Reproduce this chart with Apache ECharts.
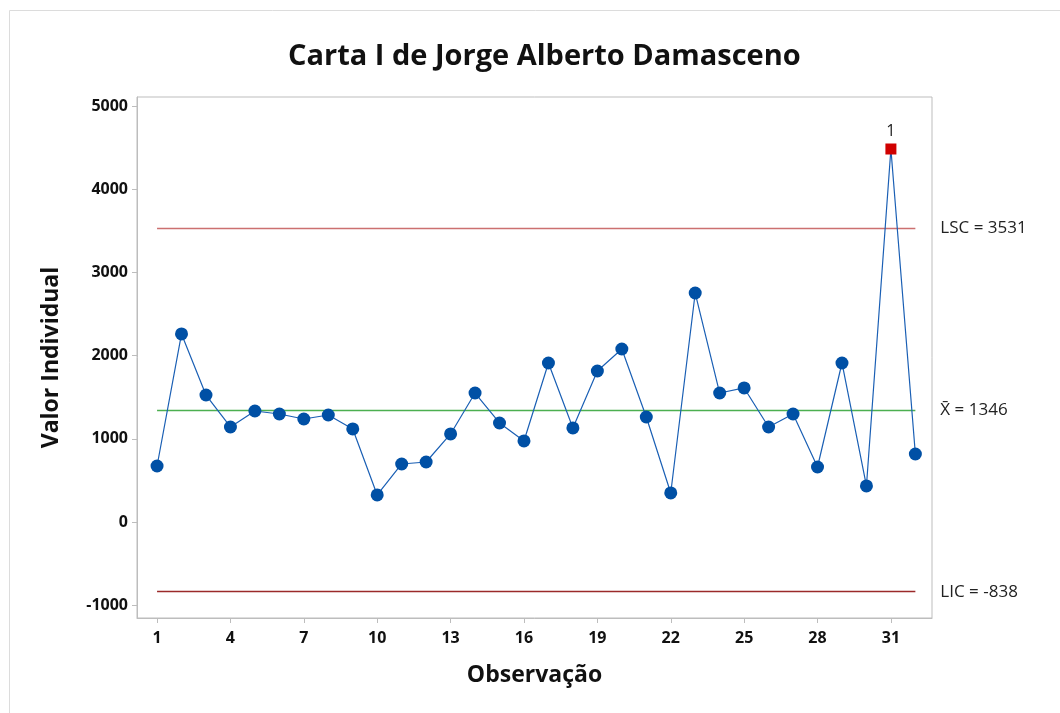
<!DOCTYPE html>
<html>
<head>
<meta charset="utf-8">
<title>Carta I</title>
<script src="https://cdn.jsdelivr.net/npm/echarts@6/dist/echarts.min.js"></script>
<style>
  html, body { margin: 0; padding: 0; background: #fff; }
  #chart { width: 1060px; height: 713px; }
</style>
</head>
<body>
<div id="chart"></div>
<script>
// observações e valores individuais
const observacoes = [1, 2, 3, 4, 5, 6, 7, 8, 9, 10, 11, 12, 13, 14, 15, 16,
  17, 18, 19, 20, 21, 22, 23, 24, 25, 26, 27, 28, 29, 30, 31, 32]
const valores = [673, 2260, 1526, 1142, 1334, 1298, 1238, 1286, 1118, 325, 697, 721, 1058, 1550, 1190, 974,
  1911, 1130, 1815, 2079, 1262, 349, 2752, 1550, 1611, 1142, 1298, 661, 1911, 433, 4483, 817]
// pontos fora de controle (teste 1)
const foraControle = [31]
// limites
const LSC = 3531
const media = 1346
const LIC = -838
const yTicks = [-1000, 0, 1000, 2000, 3000, 4000, 5000]
const xTicks = [1, 4, 7, 10, 13, 16, 19, 22, 25, 28, 31]

const font = '"Open Sans", "Noto Sans", sans-serif'
const chart = echarts.init(document.getElementById('chart'))

const seriesData = observacoes.map((obs, i) => {
  const item = { value: [obs, valores[i]] }
  if (foraControle.includes(obs)) {
    item.symbol = 'rect'
    item.symbolSize = 11
    item.itemStyle = { color: '#d00000' }
    item.label = { show: true, formatter: '1', position: 'top', distance: 4,
      fontFamily: font, fontSize: 16, color: '#222' }
  }
  return item
})

const limite = (valor, cor, texto) => [
  { coord: [1, valor], lineStyle: { color: cor }, label: { formatter: texto } },
  { coord: [32, valor] }
]

chart.setOption({
  animation: false,
  backgroundColor: '#fff',
  graphic: [{
    type: 'rect', left: 7, top: 8, silent: true,
    shape: { width: 1200, height: 800 },
    style: { fill: 'none', stroke: '#dcdcdc', lineWidth: 1 }
  }],
  title: {
    text: 'Carta I de Jorge Alberto Damasceno',
    left: 283, top: 37,
    textStyle: { fontFamily: font, fontSize: 29, fontWeight: 'bold', color: '#111' }
  },
  grid: {
    left: 137, right: 128, top: 97, bottom: 95,
    show: true, borderColor: '#bdbdbd', borderWidth: 1, backgroundColor: '#fff'
  },
  xAxis: {
    type: 'value', min: 0.18, max: 32.68,
    name: 'Observação', nameLocation: 'middle', nameGap: 46,
    nameTextStyle: { fontFamily: font, fontSize: 23, fontWeight: 'bold', color: '#111' },
    axisLine: { show: true, onZero: false, lineStyle: { color: '#bdbdbd' } },
    axisTick: { show: true, length: 5, customValues: xTicks, lineStyle: { color: '#bdbdbd' } },
    axisLabel: { customValues: xTicks, margin: 12, fontFamily: font, fontSize: 16, fontWeight: 'bold', color: '#111' },
    splitLine: { show: false }
  },
  yAxis: {
    type: 'value', min: -1154, max: 5108,
    name: 'Valor Individual', nameLocation: 'middle', nameGap: 74,
    nameTextStyle: { fontFamily: font, fontSize: 23, fontWeight: 'bold', color: '#111' },
    axisLine: { show: true, onZero: false, lineStyle: { color: '#bdbdbd' } },
    axisTick: { show: true, length: 5, customValues: yTicks, lineStyle: { color: '#bdbdbd' } },
    axisLabel: { customValues: yTicks, margin: 9, formatter: v => String(v),
      fontFamily: font, fontSize: 16, fontWeight: 'bold', color: '#111' },
    splitLine: { show: false }
  },
  series: [{
    type: 'line',
    data: seriesData,
    symbol: 'circle',
    symbolSize: 13,
    itemStyle: { color: '#0050a5' },
    lineStyle: { color: '#1a5fb4', width: 1.2 },
    z: 5,
    markLine: {
      silent: true,
      symbol: 'none',
      lineStyle: { type: 'solid', width: 1.3 },
      label: { position: 'end', distance: 25, fontFamily: font, fontSize: 17, color: '#222' },
      data: [
        limite(LSC, '#cc7070', 'LSC = ' + LSC),
        limite(media, '#4caf50', 'X\u0304 = ' + media),
        limite(LIC, '#9b2a2a', 'LIC = ' + LIC)
      ]
    }
  }]
})
</script>
</body>
</html>
